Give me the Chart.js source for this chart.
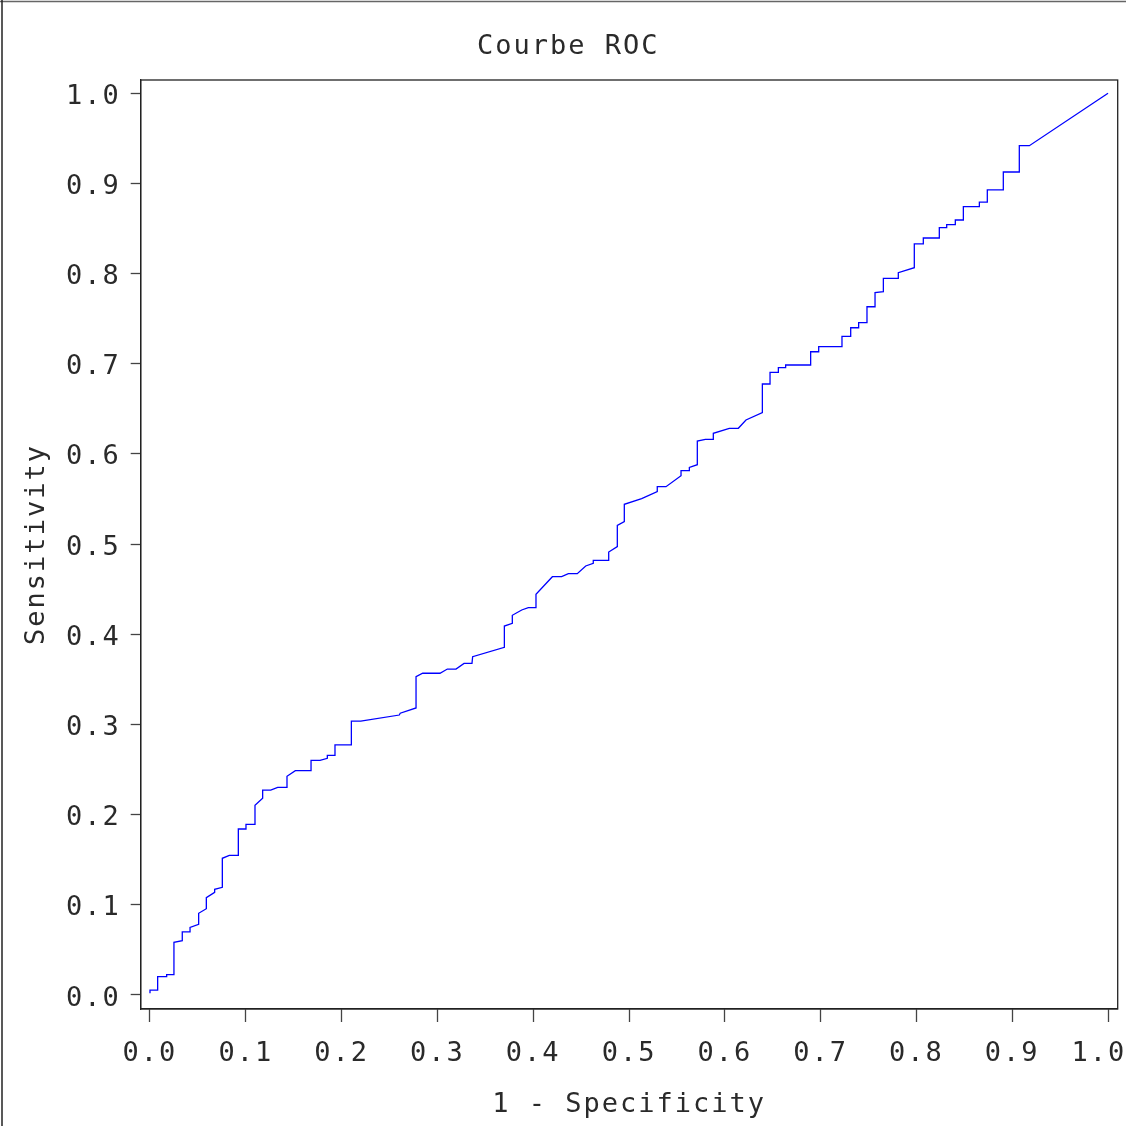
<!DOCTYPE html>
<html>
<head>
<meta charset="utf-8">
<script src="https://cdn.jsdelivr.net/npm/chart.js@4.4.0/dist/chart.umd.min.js"></script>
<style>
  html, body { margin: 0; padding: 0; background: #ffffff; }
  #wrap { width: 1126px; height: 1126px; }
</style>
</head>
<body>
<div id="wrap"><canvas id="c" width="1126" height="1126"></canvas></div>
<script>
// ---- data ----
const chartTitle = "Courbe ROC";
const xAxisTitle = "1 - Specificity";
const yAxisTitle = "Sensitivity";
const tickValues = [0.0, 0.1, 0.2, 0.3, 0.4, 0.5, 0.6, 0.7, 0.8, 0.9, 1.0];

// 1 - specificity (false positive rate)
const fpr = [
  0.000, 0.000, 0.008, 0.008, 0.0174, 0.0174, 0.025, 0.025, 0.0337, 0.0337,
  0.0418, 0.0418, 0.0508, 0.0508, 0.0588, 0.0588, 0.0675, 0.0675, 0.0755, 0.0755,
  0.0828, 0.0922, 0.0922, 0.1002, 0.1002, 0.1096, 0.1096, 0.1176, 0.1176, 0.126,
  0.1333, 0.143, 0.143, 0.1517, 0.1681, 0.1681, 0.1775, 0.1851, 0.1851, 0.1931,
  0.1931, 0.2102, 0.2102, 0.220, 0.2602, 0.2612, 0.2777, 0.2777, 0.2846, 0.3027,
  0.3104, 0.3194, 0.3278, 0.3361, 0.3368, 0.3699, 0.3699, 0.3782, 0.3782, 0.388,
  0.3949, 0.4029, 0.4029, 0.420, 0.4297, 0.4367, 0.446, 0.4548, 0.4627, 0.4627,
  0.4788, 0.4788, 0.4878, 0.4878, 0.4951, 0.4951, 0.5132, 0.5295, 0.5295, 0.5386,
  0.5543, 0.5543, 0.563, 0.563, 0.5713, 0.5713, 0.5797, 0.588, 0.588, 0.6047,
  0.6141, 0.6221, 0.6392, 0.6392, 0.6472, 0.6472, 0.6559, 0.6559, 0.6635, 0.6635,
  0.6896, 0.6896, 0.698, 0.698, 0.7223, 0.7223, 0.7314, 0.7314, 0.7397, 0.7397,
  0.7484, 0.7484, 0.7568, 0.7568, 0.7655, 0.7655, 0.7811, 0.7811, 0.7978, 0.7978,
  0.8072, 0.8072, 0.8239, 0.8239, 0.8316, 0.8316, 0.8406, 0.8406, 0.849, 0.849,
  0.8657, 0.8657, 0.874, 0.874, 0.8907, 0.8907, 0.9074, 0.9074, 0.9179, 1.000
];
// sensitivity
const sensitivity = [
  0.002, 0.0055, 0.0055, 0.0203, 0.0203, 0.0225, 0.0225, 0.0584, 0.0602, 0.0699,
  0.0699, 0.075, 0.0784, 0.0906, 0.0957, 0.1079, 0.1139, 0.1172, 0.1194, 0.1516,
  0.1549, 0.1549, 0.1841, 0.1841, 0.1893, 0.1893, 0.2104, 0.2181, 0.2273, 0.2273,
  0.2303, 0.2303, 0.2425, 0.2488, 0.2488, 0.2603, 0.2603, 0.2625, 0.2658, 0.2658,
  0.2773, 0.2773, 0.3037, 0.3037, 0.3105, 0.3125, 0.3183, 0.353, 0.3568, 0.3568,
  0.3615, 0.3615, 0.3678, 0.3678, 0.3752, 0.3856, 0.4092, 0.4122, 0.4211, 0.427,
  0.4295, 0.4295, 0.4444, 0.4639, 0.4639, 0.4672, 0.4672, 0.4758, 0.4788, 0.4821,
  0.4821, 0.4913, 0.4972, 0.5209, 0.5249, 0.5442, 0.5504, 0.5582, 0.5637, 0.5637,
  0.5759, 0.5815, 0.5815, 0.585, 0.5881, 0.6144, 0.6163, 0.6163, 0.6229, 0.6285,
  0.6285, 0.6377, 0.6458, 0.6776, 0.6776, 0.6906, 0.6906, 0.6957, 0.6957, 0.6987,
  0.6987, 0.7134, 0.7134, 0.719, 0.719, 0.7305, 0.7305, 0.740, 0.740, 0.7456,
  0.7456, 0.7633, 0.7633, 0.7789, 0.780, 0.7948, 0.7948, 0.8011, 0.8066, 0.8329,
  0.8329, 0.8395, 0.8395, 0.851, 0.851, 0.8543, 0.8543, 0.8595, 0.8595, 0.8743,
  0.8743, 0.8794, 0.8794, 0.8928, 0.8928, 0.9127, 0.9127, 0.9419, 0.9419, 1.000
];

const points = fpr.map((x, i) => ({ x: x, y: sensitivity[i] }));

const FONT = "'DejaVu Sans Mono', 'Liberation Mono', monospace";
const TEXT = '#2a2a2a';

// letter spacing (the reference uses a widely spaced monospace font)
const spacingPlugin = {
  id: 'spacing',
  beforeUpdate(chart) { try { chart.ctx.letterSpacing = '2px'; } catch (e) {} },
  beforeDraw(chart) { try { chart.ctx.letterSpacing = '2px'; } catch (e) {} }
};

// full frame around the plot area plus the page border (top, left)
const framePlugin = {
  id: 'frame',
  afterDatasetsDraw(chart) {
    const { ctx, chartArea: a } = chart;
    ctx.save();
    ctx.strokeStyle = '#222';
    ctx.lineWidth = 1.3;
    ctx.strokeRect(a.left, a.top, a.right - a.left, a.bottom - a.top);
    ctx.restore();
  },
  afterDraw(chart) {
    const ctx = chart.ctx;
    ctx.save();
    ctx.strokeStyle = '#666';
    ctx.lineWidth = 1.5;
    ctx.beginPath();
    ctx.moveTo(0, 1.5); ctx.lineTo(1126, 1.5);
    ctx.stroke();
    ctx.strokeStyle = '#222';
    ctx.beginPath();
    ctx.moveTo(2, 0); ctx.lineTo(2, 1126);
    ctx.stroke();
    ctx.restore();
  }
};

function fixTicks(scale) {
  scale.ticks = tickValues.map(v => ({ value: v }));
}

new Chart(document.getElementById('c'), {
  type: 'line',
  data: {
    datasets: [{
      label: 'ROC',
      data: points,
      borderColor: '#0000ff',
      borderWidth: 1.3,
      pointRadius: 0,
      tension: 0,
      fill: false
    }]
  },
  options: {
    responsive: false,
    animation: false,
    devicePixelRatio: 1,
    layout: { padding: { left: 19, right: 8.3, top: 0, bottom: 0 } },
    plugins: {
      legend: { display: false },
      tooltip: { enabled: false },
      title: {
        display: true,
        text: chartTitle,
        color: TEXT,
        font: { family: FONT, size: 27, weight: 'normal', lineHeight: 1.2 },
        padding: { top: 31, bottom: 16.6 }
      }
    },
    scales: {
      x: {
        type: 'linear',
        min: -0.0097,
        max: 1.0101,
        afterBuildTicks: fixTicks,
        afterFit(scale) {
          scale.height = 117;
          scale.paddingLeft = 0; scale.paddingRight = 0;
          scale.paddingTop = 0; scale.paddingBottom = 0;
        },
        grid: { drawOnChartArea: false, tickLength: 13, tickColor: '#444', tickWidth: 1.3 },
        border: { display: true, color: '#222', width: 1.3 },
        ticks: {
          autoSkip: false,
          maxRotation: 0,
          padding: 15.3,
          color: TEXT,
          font: { family: FONT, size: 27, lineHeight: 1.2 },
          // the last label is pulled inside the page, as in the reference
          callback: v => Number(v).toFixed(1) + (v >= 1 ? ' ' : '')
        },
        title: {
          display: true,
          text: xAxisTitle,
          color: TEXT,
          font: { family: FONT, size: 27, lineHeight: 1.2 },
          padding: { top: 0, bottom: 4.8 }
        }
      },
      y: {
        type: 'linear',
        min: -0.01553,
        max: 1.01475,
        afterBuildTicks: fixTicks,
        afterFit(scale) {
          scale.width = 121.7;
          scale.paddingLeft = 0; scale.paddingRight = 0;
          scale.paddingTop = 0; scale.paddingBottom = 0;
        },
        grid: { drawOnChartArea: false, tickLength: 10, tickColor: '#444', tickWidth: 1.3 },
        border: { display: true, color: '#222', width: 1.3 },
        ticks: {
          autoSkip: false,
          padding: 10,
          labelOffset: 3.5,
          color: TEXT,
          font: { family: FONT, size: 27, lineHeight: 1.2 },
          callback: v => Number(v).toFixed(1)
        },
        title: {
          display: true,
          text: yAxisTitle,
          color: TEXT,
          font: { family: FONT, size: 27, lineHeight: 1.2 },
          padding: { top: 1.8, bottom: 0 }
        }
      }
    }
  },
  plugins: [spacingPlugin, framePlugin]
});
</script>
</body>
</html>
